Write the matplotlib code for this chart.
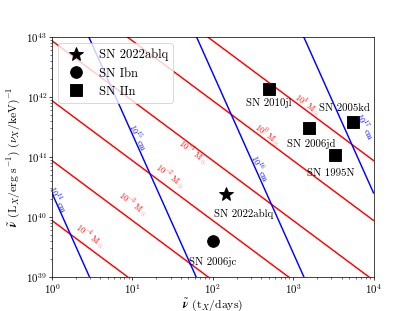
import numpy as np
import matplotlib
matplotlib.use('Agg')
import matplotlib.pyplot as plt

plt.rcParams['font.family'] = 'serif'
plt.rcParams['font.serif'] = ['cmr10']
plt.rcParams['mathtext.fontset'] = 'cm'
plt.rcParams['axes.formatter.use_mathtext'] = True

# constant-mass lines: L = 10**mass_logl_1d * (t/1 day)**-1
mass_labels = [r'10$^{-4}$ M$_\odot$', r'10$^{-3}$ M$_\odot$', r'10$^{-2}$ M$_\odot$',
               r'10$^{-1}$ M$_\odot$', r'10$^{0}$ M$_\odot$', r'10$^{1}$ M$_\odot$']
mass_logl_1d = [39.94, 40.94, 41.94, 42.94, 43.94, 44.94]
mass_text_x = [2.95, 10.2, 29.5, 57.5, 480, 1510]
mass_text_y = [4.8e39, 1.66e40, 4.8e40, 1.2e41, 2.35e41, 7.4e41]

# constant-radius lines: L = 10**radius_logl_1d * (t/1 day)**-3
radius_labels = [r'10$^{14}$ cm', r'10$^{15}$ cm', r'10$^{16}$ cm', r'10$^{17}$ cm']
radius_logl_1d = [40.4, 44.38, 48.4, 52.4]
radius_text_x = [1.2, 11.8, 390, 7900]
radius_text_y = [2.0e40, 2.1e41, 6.6e40, 3.2e41]

sn_names = ['SN 2022ablq', 'SN 2006jc', 'SN 2010jl', 'SN 2006jd', 'SN 2005kd', 'SN 1995N']
sn_t = [148, 100, 500, 1590, 5600, 3300]
sn_l = [2.4e40, 4.0e39, 1.36e42, 3.0e41, 3.8e41, 1.08e41]
sn_type = ['star', 'Ibn', 'IIn', 'IIn', 'IIn', 'IIn']
sn_text_x = [243, 100, 500, 1700, 4300, 2900]
sn_text_y = [1.12e40, 1.8e39, 8.0e41, 1.65e41, 6.5e41, 5.3e40]

markers = {'star': '*', 'Ibn': 'o', 'IIn': 's'}
legend_names = {'star': 'SN 2022ablq', 'Ibn': 'SN Ibn', 'IIn': 'SN IIn'}

fig, ax = plt.subplots(figsize=(6.4, 4.8))
t = np.logspace(0, 4, 200)

for logl in mass_logl_1d:
    ax.plot(t, 10 ** logl / t, color='red', lw=1.6)
for logl in radius_logl_1d:
    ax.plot(t, 10 ** logl / t ** 3, color='blue', lw=1.6)

for lab, x, y in zip(mass_labels, mass_text_x, mass_text_y):
    ax.text(x, y, lab, color='red', fontsize=9, rotation=-37,
            ha='center', va='center')
for lab, x, y in zip(radius_labels, radius_text_x, radius_text_y):
    ax.text(x, y, lab, color='blue', fontsize=9, rotation=-64,
            ha='center', va='center')

done = set()
for name, x, y, kind, tx, ty in zip(sn_names, sn_t, sn_l, sn_type, sn_text_x, sn_text_y):
    size = 16 if kind == 'star' else 13
    lab = legend_names[kind] if kind not in done else None
    done.add(kind)
    ax.plot(x, y, markers[kind], color='black', ms=size, ls='none', label=lab)
    ax.text(tx, ty, name, fontsize=12, ha='center', va='center')

ax.set_xscale('log')
ax.set_yscale('log')
ax.set_xlim(1, 1e4)
ax.set_ylim(1e39, 1e43)
ax.set_xlabel(r'$\tilde{\boldsymbol{\nu}}$ (t$_X$/days)', fontsize=13, labelpad=1)
ax.set_ylabel(r'$\tilde{\boldsymbol{\nu}}$ (L$_X$/erg s$^{-1}$) ($\nu_X$/keV)$^{-1}$', fontsize=13)
ax.tick_params(labelsize=12, pad=2)
ax.legend(loc='upper left', fontsize=14)

fig.savefig('out.png', dpi=415 / 6.4)
